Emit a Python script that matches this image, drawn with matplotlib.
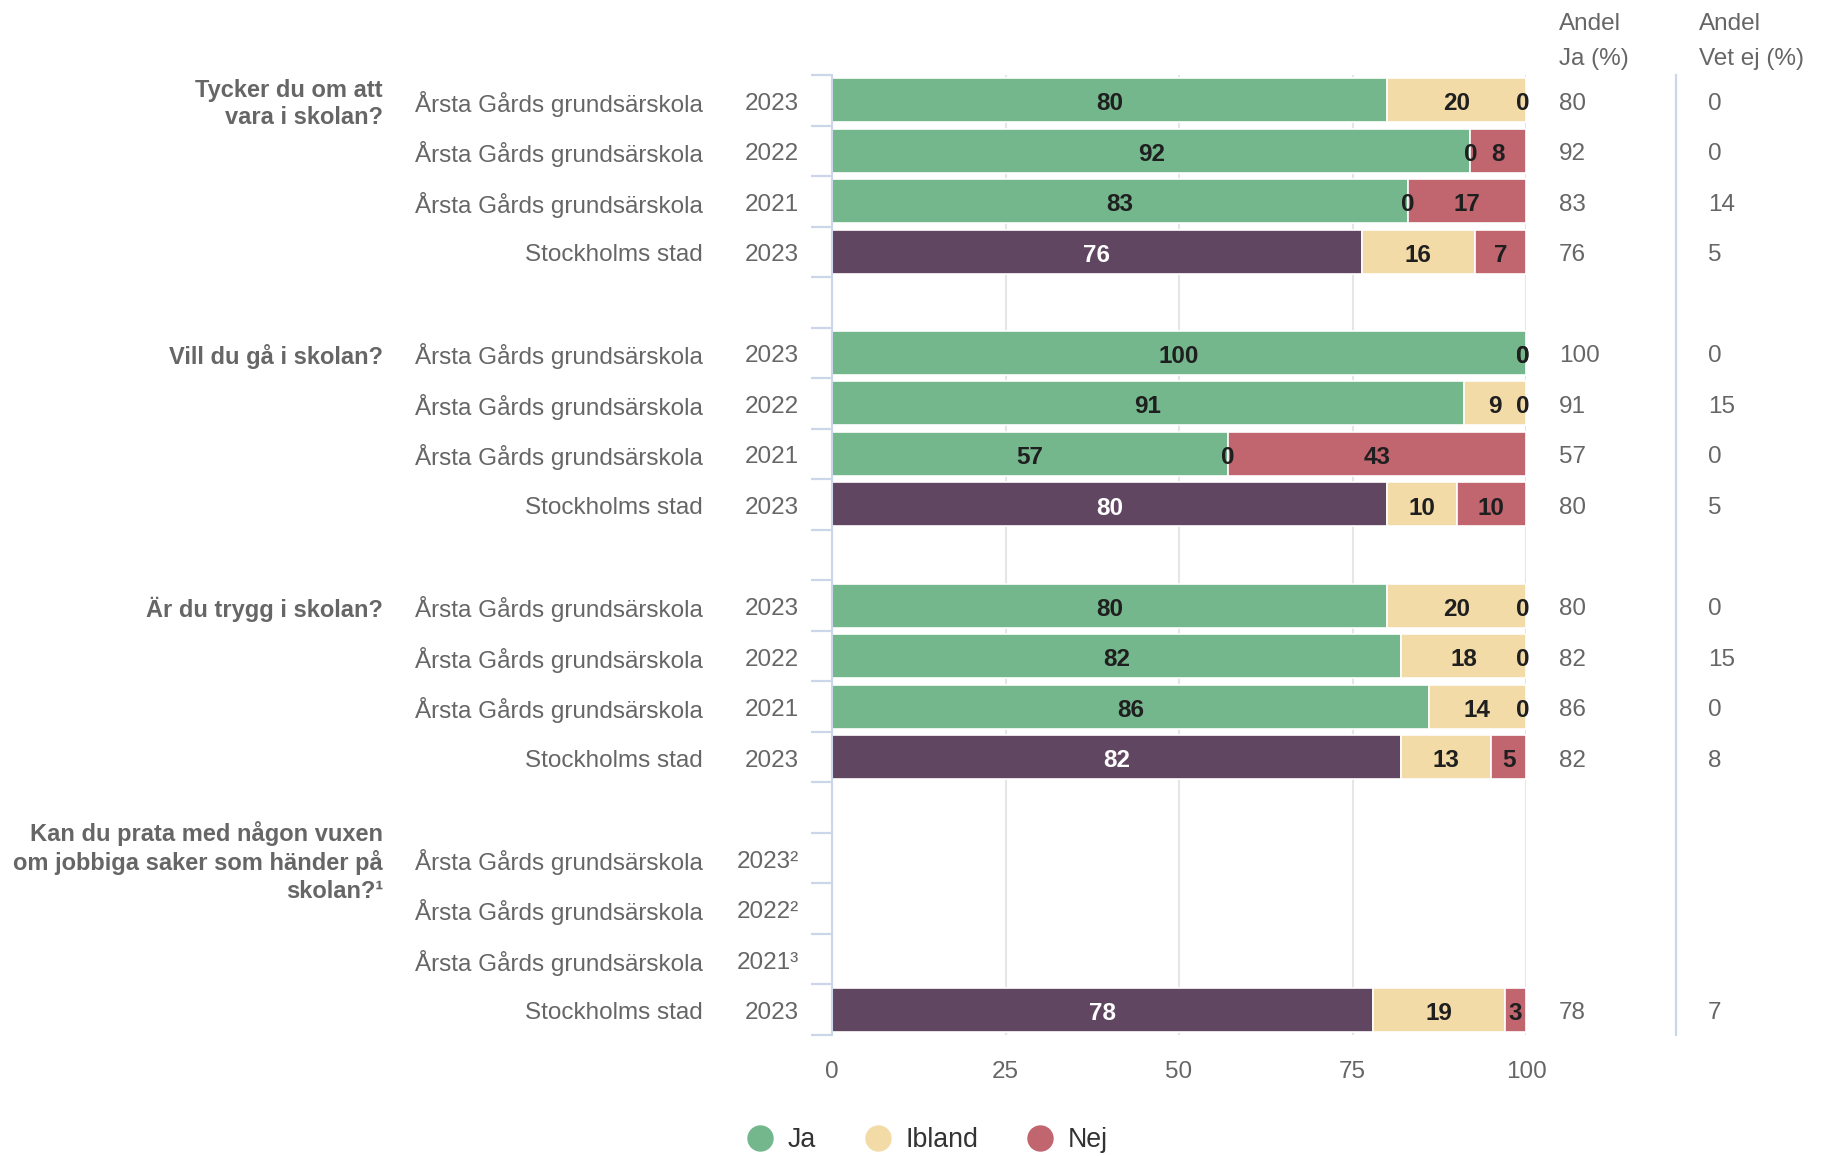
import matplotlib
matplotlib.use("Agg")
import matplotlib.pyplot as plt
from matplotlib.lines import Line2D
from matplotlib.transforms import blended_transform_factory
import numpy as np

plt.rcParams['font.family'] = ['Liberation Sans', 'DejaVu Sans']

# ---------------- data ----------------
questions = [
    "Tycker du om att\nvara i skolan?",
    "Vill du gå i skolan?",
    "Är du trygg i skolan?",
    "Kan du prata med någon vuxen\nom jobbiga saker som händer på\nskolan?¹",
]
units = ["Årsta Gårds grundsärskola", "Årsta Gårds grundsärskola",
         "Årsta Gårds grundsärskola", "Stockholms stad"]
years = [
    ["2023", "2022", "2021", "2023"],
    ["2023", "2022", "2021", "2023"],
    ["2023", "2022", "2021", "2023"],
    ["2023²", "2022²", "2021³", "2023"],
]
ja = [80, 92, 83, 76.3,
      100, 91, 57, 80,
      80, 82, 86, 82,
      None, None, None, 78]
ibland = [20, 0, 0, 16.3,
          0, 9, 0, 10,
          20, 18, 14, 13,
          None, None, None, 19]
nej = [0, 8, 17, 7.4,
       0, 0, 43, 10,
       0, 0, 0, 5,
       None, None, None, 3]
andel_ja = [80, 92, 83, 76,
            100, 91, 57, 80,
            80, 82, 86, 82,
            None, None, None, 78]
andel_vet_ej = [0, 0, 14, 5,
                0, 15, 0, 5,
                0, 15, 0, 8,
                None, None, None, 7]
series_names = ["Ja", "Ibland", "Nej"]
x_ticks = [0, 25, 50, 75, 100]

# ---------------- style ----------------
C_JA = "#74b78d"
C_JA_STHLM = "#614662"
C_IBLAND = "#f3dba8"
C_NEJ = "#c1656e"
C_TEXT = "#666666"
C_AXIS = "#ccd6eb"
C_GRID = "#e6e6e6"
FS = 17.5
FS_Q = 17.0
FS_LEG = 19.3
DY = 0.07  # small downward nudge of row texts (data units)

W, H = 1829, 1156
fig = plt.figure(figsize=(W / 100, H / 100), dpi=100)
ax_l, ax_r, ax_t, ax_b = 832, 1526, 75, 1035
ax = fig.add_axes([ax_l / W, 1 - ax_b / H, (ax_r - ax_l) / W, (ax_b - ax_t) / H])

rows_per_group = 4
slot = rows_per_group + 1
n_groups = len(questions)
positions = []
for g in range(n_groups):
    for r in range(rows_per_group):
        positions.append(g * slot + r)
positions = np.array(positions, dtype=float)

valid = [i for i in range(len(ja)) if ja[i] is not None]
ys = positions[valid]
ja_v = np.array([ja[i] for i in valid], dtype=float)
ib_v = np.array([ibland[i] for i in valid], dtype=float)
nej_v = np.array([nej[i] for i in valid], dtype=float)
tot = ja_v + ib_v + nej_v
# percent stacking (as in the source chart)
ja_p = ja_v / tot * 100
ib_p = ib_v / tot * 100
nej_p = nej_v / tot * 100
ja_cols = [C_JA_STHLM if units[i % rows_per_group] == "Stockholms stad" else C_JA for i in valid]

bh = 0.87
for vals, lefts, cols in [(ja_p, np.zeros_like(ja_p), ja_cols),
                          (ib_p, ja_p, C_IBLAND),
                          (nej_p, ja_p + ib_p, C_NEJ)]:
    mask = vals > 0
    cc = np.array(cols)[mask] if isinstance(cols, list) else cols
    ax.barh(ys[mask], vals[mask], left=lefts[mask], height=bh, color=cc,
            edgecolor="white", linewidth=1.2, zorder=2)

# data labels
for k, i in enumerate(valid):
    y = ys[k]
    segs = [(ja_p[k], 0.0, ja_v[k]), (ib_p[k], ja_p[k], ib_v[k]),
            (nej_p[k], ja_p[k] + ib_p[k], nej_v[k])]
    for s, (w, left, v) in enumerate(segs):
        col = "white" if (s == 0 and ja_cols[k] == C_JA_STHLM) else "#1f1f1f"
        xc = left + w / 2
        if v == 0 and xc >= 99.9:
            xc = 99.6
        ax.text(xc, y + DY, f"{int(round(v))}", ha="center", va="center",
                fontsize=FS, fontweight="bold", color=col, zorder=4)

ax.set_xlim(0, 100)
ax.set_ylim(n_groups * slot - 1 - 0.5, -0.5)
ax.set_xticks(x_ticks)
ax.set_xticklabels([str(t) for t in x_ticks])
ax.tick_params(axis="x", length=0, pad=19, labelsize=FS, labelcolor=C_TEXT)
yt = []
for g in range(n_groups):
    yt += [g * slot + r - 0.5 for r in range(rows_per_group + 1)]
ax.set_yticks(yt)
ax.set_yticklabels([])
ax.tick_params(axis="y", length=15, width=1.6, color=C_AXIS, direction="out")
ax.grid(axis="x", color=C_GRID, linewidth=1.5, zorder=0)
ax.set_axisbelow(True)
for sp in ["top", "right", "bottom"]:
    ax.spines[sp].set_visible(False)
ax.spines["left"].set_color(C_AXIS)
ax.spines["left"].set_linewidth(1.5)
ax.spines["left"].set_zorder(3)

# left labels
trans = blended_transform_factory(fig.transFigure, ax.transData)
for g in range(n_groups):
    y0 = g * slot
    ax.text(383 / W, y0 + DY, questions[g], transform=trans, ha="right", va="center",
            fontsize=FS_Q, fontweight="bold", color=C_TEXT, linespacing=1.24)
    for r in range(rows_per_group):
        y = y0 + r + DY
        ax.text(703 / W, y, units[r], transform=trans, ha="right", va="center",
                fontsize=FS, color=C_TEXT)
        ax.text(799 / W, y, years[g][r], transform=trans, ha="right", va="center",
                fontsize=FS, color=C_TEXT)

# right columns
for i in range(len(positions)):
    y = positions[i] + DY
    if andel_ja[i] is not None:
        ax.text(1559 / W, y, str(andel_ja[i]), transform=trans, ha="left", va="center",
                fontsize=FS, color=C_TEXT)
    if andel_vet_ej[i] is not None:
        ax.text(1708 / W, y, str(andel_vet_ej[i]), transform=trans, ha="left", va="center",
                fontsize=FS, color=C_TEXT)

fig.text(1559 / W, 1 - 24.5 / H, "Andel", ha="left", va="center", fontsize=FS, color=C_TEXT)
fig.text(1559 / W, 1 - 58.5 / H, "Ja (%)", ha="left", va="center", fontsize=FS, color=C_TEXT)
fig.text(1699 / W, 1 - 24.5 / H, "Andel", ha="left", va="center", fontsize=FS, color=C_TEXT)
fig.text(1699 / W, 1 - 58.5 / H, "Vet ej (%)", ha="left", va="center", fontsize=FS, color=C_TEXT)

fig.add_artist(Line2D([1676 / W, 1676 / W], [1 - 75 / H, 1 - 1035 / H],
                      transform=fig.transFigure, color=C_AXIS, linewidth=1.6))

# legend
handles = [Line2D([], [], marker="o", linestyle="none", markersize=18,
                  markerfacecolor=c, markeredgecolor=c)
           for c in [C_JA, C_IBLAND, C_NEJ]]
fig.legend(handles, series_names, loc="center", bbox_to_anchor=(0.507, 0.0135),
           ncol=3, frameon=False, handletextpad=0.54, columnspacing=1.8,
           handlelength=1.0, fontsize=FS_LEG, labelcolor="#333333")

fig.savefig("out.png", dpi=100)
